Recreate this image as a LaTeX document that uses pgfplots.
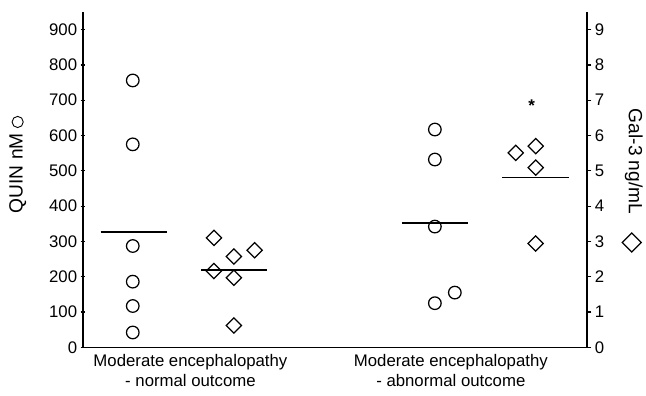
\documentclass[border=0pt]{standalone}
\usepackage{pgfplots}
\pgfplotsset{compat=1.18}
\usepackage{fontspec}
\setmainfont{Liberation Sans}
\newcommand{\bigf}{\fontsize{16.8}{20}\selectfont}
\newcommand{\labf}{\fontsize{19.2}{22}\selectfont}
\begin{document}
\begin{tikzpicture}
\pgfplotsset{
  common/.style={
    scale only axis, width=505pt, height=336pt,
    xmin=0, xmax=505,
    /pgf/number format/assume math mode=true,
    tick label style={font=\bigf},
    tick align=outside,
    major tick length=4.5pt,
    axis line style={line width=1.4pt},
    every tick/.style={line width=1.2pt, black},
    clip=false,
  }
}
\begin{axis}[common,
  axis x line=bottom, axis y line=left,
  ymin=0, ymax=950,
  ytick={0,100,...,900},
  xtick={107.8,368.7},
  xticklabels={Moderate encephalopathy\\- normal outcome, Moderate encephalopathy\\- abnormal outcome},
  xticklabel style={align=center, font=\bigf, yshift=-1pt},
  x tick style={draw=none},
  x axis line style={-},
  y axis line style={-},
]
\addplot[only marks, mark=o, mark size=6.3pt, line width=1.25pt, mark options={fill=white}] coordinates {
(50,756) (50,575) (50,287) (50,186) (50,117) (50,42)
(352.7,617) (352.7,532) (352.7,342) (372.7,155) (352.7,125)
};
\addplot[no marks, line width=1.8pt] coordinates {(17.7,326) (84.3,326)};
\addplot[no marks, line width=1.8pt] coordinates {(319.7,353) (386.3,353)};
\node[rotate=90, anchor=center, font=\labf] at (rel axis cs:-0.129,0.545) {QUIN nM \tikz[baseline=-0.5ex]\draw[line width=0.9pt] (0,0) circle (5.6pt);};
\path (rel axis cs:-0.1644,-0.1429) rectangle (rel axis cs:1.1149,1.0357);
\end{axis}
\begin{axis}[common,
  axis x line=none, axis y line*=right,
  ymin=0, ymax=9.5,
  ytick={0,1,...,9},
  y axis line style={-},
]
\addplot[only marks, mark=square, mark size=5.4pt, line width=1.25pt, mark options={rotate=45, fill=white}] coordinates {
(131.3,3.10) (172,2.75) (151.3,2.57) (131.3,2.16) (151.3,1.97) (151.3,0.62)
(453.7,5.70) (433.7,5.51) (453.7,5.09) (453.7,2.94)
};
\addplot[no marks, line width=1.8pt] coordinates {(118.7,2.19) (184.7,2.19)};
\addplot[no marks, line width=1.8pt] coordinates {(420.3,4.81) (487,4.81)};
\node[font=\fontsize{17}{18}\selectfont\bfseries] at (axis cs:449.7,6.85) {*};
\node[rotate=-90, anchor=center, font=\labf] at (rel axis cs:1.093,0.554) {Gal-3 ng/mL};
\node[draw, line width=1.2pt, rotate=45, minimum size=13.5pt, inner sep=0pt] at (rel axis cs:1.089,0.3125) {};
\end{axis}
\end{tikzpicture}
\end{document}
